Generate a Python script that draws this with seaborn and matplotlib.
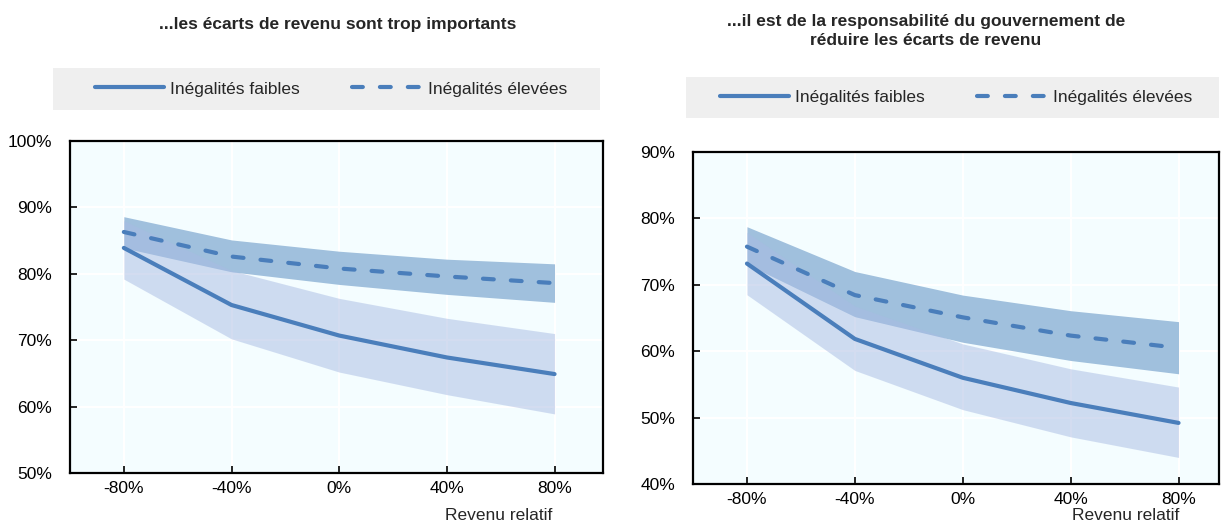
import matplotlib
matplotlib.use("Agg")
import pandas as pd
import matplotlib.pyplot as plt
import seaborn as sns
from matplotlib.patches import Rectangle
from matplotlib.lines import Line2D
from matplotlib.ticker import FuncFormatter

# Relative income (x axis) and the values (in %)
revenu = [-80, -40, 0, 40, 80]

# Left panel: "...les écarts de revenu sont trop importants"
g_faibles = [83.9, 75.3, 70.7, 67.4, 64.9]
g_faibles_bas = [79.2, 70.2, 65.2, 61.8, 58.9]
g_faibles_haut = [88.0, 80.5, 76.3, 73.3, 71.0]
g_elevees = [86.3, 82.6, 80.8, 79.6, 78.6]
g_elevees_bas = [83.9, 80.3, 78.4, 76.9, 75.7]
g_elevees_haut = [88.6, 85.1, 83.4, 82.2, 81.5]

# Right panel: "...il est de la responsabilité du gouvernement de réduire les écarts de revenu"
d_faibles = [73.2, 61.85, 56.0, 52.2, 49.2]
d_faibles_bas = [68.5, 57.1, 51.2, 47.1, 44.0]
d_faibles_haut = [77.9, 66.8, 61.1, 57.35, 54.6]
d_elevees = [75.75, 68.45, 65.1, 62.35, 60.5]
d_elevees_bas = [73.1, 65.2, 61.35, 58.6, 56.6]
d_elevees_haut = [78.75, 72.0, 68.45, 66.1, 64.45]

x_ticks = [-80, -40, 0, 40, 80]
titres = ["...les écarts de revenu sont trop importants",
          "...il est de la responsabilité du gouvernement de\nréduire les écarts de revenu"]
series = ["Inégalités faibles", "Inégalités élevées"]

LINE = "#4a7ebb"
DARK_BAND = "#a0c0dd"
LIGHT_BAND = "#a8bbe3"
BG = "#f4fdff"
DASH = (2.6, 4.1)

sns.set_style("white")
plt.rcParams["font.family"] = ["Liberation Sans", "DejaVu Sans"]

fig = plt.figure(figsize=(12.21, 5.26), dpi=100)


def draw_panel(rect, y_faibles, yf_bas, yf_haut, y_elevees, ye_bas, ye_haut, ylim, yticks, xlim, label_x, label_y):
    ax = fig.add_axes(rect)
    ax.set_facecolor(BG)

    # confidence bands
    ax.fill_between(revenu, ye_bas, ye_haut, color=DARK_BAND, lw=0, zorder=2)
    ax.fill_between(revenu, yf_bas, yf_haut, color=LIGHT_BAND, alpha=0.5, lw=0, zorder=3)

    df = pd.DataFrame({
        "revenu": revenu * 2,
        "valeur": y_faibles + y_elevees,
        "groupe": [series[0]] * len(revenu) + [series[1]] * len(revenu),
    })
    sns.lineplot(data=df, x="revenu", y="valeur", style="groupe",
                 dashes={series[0]: "", series[1]: DASH},
                 color=LINE, lw=3, legend=False, ax=ax, zorder=4)
    for ln in ax.lines:
        ln.set_dash_capstyle("round")
        ln.set_solid_capstyle("round")

    ax.set_xlim(*xlim)
    ax.set_ylim(*ylim)
    ax.set_xticks(x_ticks)
    ax.set_yticks(yticks)
    pct = FuncFormatter(lambda v, p: f"{v:.0f}%")
    ax.xaxis.set_major_formatter(pct)
    ax.yaxis.set_major_formatter(pct)
    ax.grid(True, color="white", lw=1.5, zorder=1)
    ax.set_axisbelow(True)
    for s in ax.spines.values():
        s.set_color("black")
        s.set_linewidth(1.6)
    ax.tick_params(axis="both", direction="in", length=5, width=1.2, color="black",
                   labelsize=12.5, labelcolor="black", bottom=True, left=True)
    ax.tick_params(axis="x", pad=6)
    ax.tick_params(axis="y", pad=13)
    ax.set_ylabel("")
    ax.set_xlabel("Revenu relatif", fontsize=12.5, ha="right")
    ax.xaxis.set_label_coords(label_x, label_y)
    return ax


ax1 = draw_panel([70 / 1221, 1 - 473 / 526, 533 / 1221, 332 / 526],
                 g_faibles, g_faibles_bas, g_faibles_haut,
                 g_elevees, g_elevees_bas, g_elevees_haut,
                 (50, 100), [50, 60, 70, 80, 90, 100], (-100, 98), 0.905, -0.105)
ax2 = draw_panel([693 / 1221, 1 - 484 / 526, 526 / 1221, 332 / 526],
                 d_faibles, d_faibles_bas, d_faibles_haut,
                 d_elevees, d_elevees_bas, d_elevees_haut,
                 (40, 90), [40, 50, 60, 70, 80, 90], (-100, 95), 0.925, -0.072)

# titles
fig.text(338 / 1221, 1 - 25 / 526, titres[0], ha="center", va="center",
         fontsize=12.5, fontweight="bold")
fig.text(926 / 1221, 1 - 31 / 526, titres[1], ha="center", va="center",
         fontsize=12.5, fontweight="bold", linespacing=1.35)

# legend boxes
handles = [Line2D([], [], color=LINE, lw=3, solid_capstyle="round"),
           Line2D([], [], color=LINE, lw=3, ls=(0, DASH), dash_capstyle="round")]
for (x0, y0, x1, y1, cx) in [(53, 68, 600, 110, 331), (686, 77, 1219, 118, 956)]:
    fig.patches.append(Rectangle((x0 / 1221, 1 - y1 / 526), (x1 - x0) / 1221, (y1 - y0) / 526,
                                 transform=fig.transFigure, facecolor="#efefef",
                                 edgecolor="none", zorder=0))
    fig.legend(handles, series, loc="center",
               bbox_to_anchor=(cx / 1221, 1 - (y0 + y1) / 2 / 526),
               ncol=2, frameon=False, fontsize=12.5, handlelength=4.0,
               handletextpad=0.35, columnspacing=3.0)

fig.savefig("out.png", dpi=100)
